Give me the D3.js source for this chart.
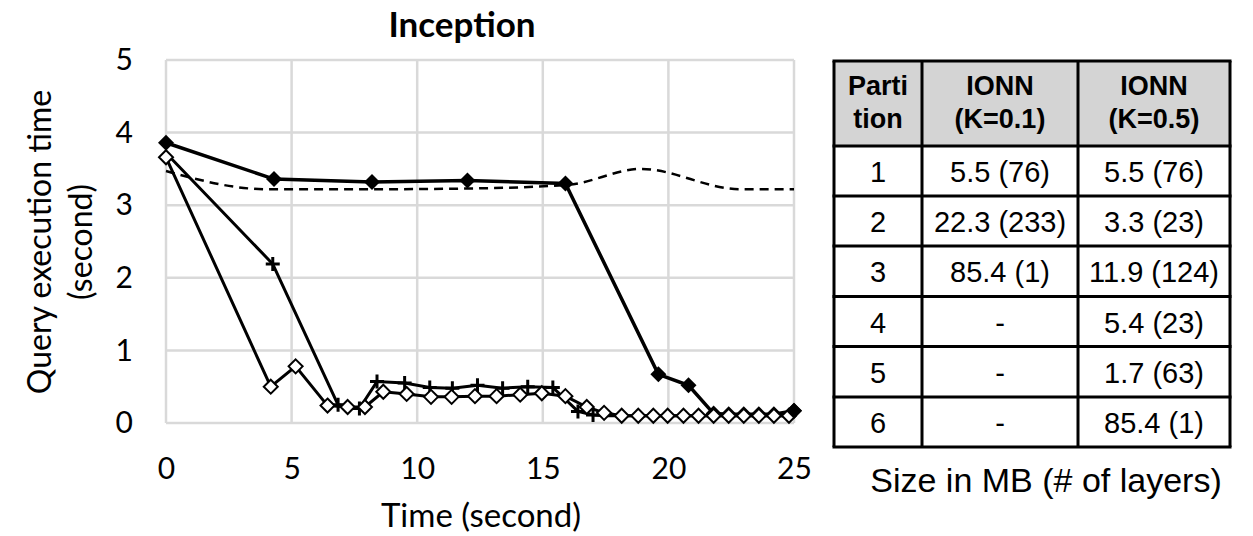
<!DOCTYPE html>
<html><head><meta charset="utf-8">
<script src="https://cdn.jsdelivr.net/npm/d3@7"></script>
<style>
html,body{margin:0;padding:0;background:#fff;}
svg{display:block;}
</style></head>
<body>
<svg id="c" width="1253" height="536"></svg>
<script>
// ---- data ----
const chartTitle = "Inception";
const xTicks = [0, 5, 10, 15, 20, 25];
const yTicks = [0, 1, 2, 3, 4, 5];
// filled diamonds series
const filledX = [0, 4.3, 8.2, 12.0, 15.9, 19.6, 20.8, 21.8, 22.4, 23.0, 23.6, 24.2, 25.0];
const filledY = [3.86, 3.36, 3.32, 3.34, 3.30, 0.67, 0.52, 0.13, 0.12, 0.12, 0.12, 0.12, 0.17];
// plus series
const plusX = [0, 4.25, 6.85, 7.7, 8.4, 9.5, 10.5, 11.4, 12.4, 13.4, 14.4, 15.4, 16.4, 17.0, 17.6, 18.2, 25.0];
const plusY = [3.72, 2.19, 0.25, 0.20, 0.57, 0.55, 0.49, 0.48, 0.52, 0.48, 0.50, 0.49, 0.16, 0.11, 0.1, 0.1, 0.1];
// hollow diamonds series
const hollowX = [0, 4.17, 5.16, 6.43, 7.23, 7.92, 8.65, 9.58, 10.55, 11.37, 12.3, 13.16, 14.1, 14.96, 15.9, 16.75, 17.44, 18.14, 18.8, 19.4, 19.97, 20.6, 21.2, 21.8, 22.4, 23.0, 23.6, 24.2, 24.8];
const hollowY = [3.66, 0.50, 0.78, 0.24, 0.22, 0.22, 0.43, 0.40, 0.36, 0.36, 0.37, 0.37, 0.39, 0.41, 0.37, 0.22, 0.14, 0.10, 0.10, 0.10, 0.10, 0.10, 0.10, 0.10, 0.10, 0.10, 0.10, 0.10, 0.10];
// dashed series (no markers)
const dashX = [0, 4.0, 8.0, 12.0, 16.0, 18.9, 22.85, 25.0];
const dashY = [3.47, 3.22, 3.22, 3.23, 3.28, 3.50, 3.22, 3.22];

const tableHeader = [["Parti", "tion"], ["IONN", "(K=0.1)"], ["IONN", "(K=0.5)"]];
const tablePartition = ["1", "2", "3", "4", "5", "6"];
const tableK01 = ["5.5 (76)", "22.3 (233)", "85.4 (1)", "-", "-", "-"];
const tableK05 = ["5.5 (76)", "3.3 (23)", "11.9 (124)", "5.4 (23)", "1.7 (63)", "85.4 (1)"];
const tableCaption = "Size in MB (# of layers)";

// ---- chart ----
const svg = d3.select("#c");
const chartFont = "Lato, 'Open Sans', sans-serif";
const x = d3.scaleLinear().domain([0, 25]).range([166, 794]);
const y = d3.scaleLinear().domain([0, 5]).range([423, 60]);

const g = svg.append("g");
// grid
g.selectAll(".vg").data(xTicks).join("line")
  .attr("x1", d => x(d)).attr("x2", d => x(d)).attr("y1", y(0)).attr("y2", y(5))
  .attr("stroke", "#d9d9d9").attr("stroke-width", 2.5);
g.selectAll(".hg").data(yTicks).join("line")
  .attr("x1", x(0)).attr("x2", x(25)).attr("y1", d => y(d)).attr("y2", d => y(d))
  .attr("stroke", "#d9d9d9").attr("stroke-width", 2.5);

// axes labels via d3 axes
const xAxis = g.append("g").attr("transform", `translate(0,${y(0)})`)
  .call(d3.axisBottom(x).tickValues(xTicks).tickFormat(d3.format("d")).tickSize(0).tickPadding(35));
const yAxis = g.append("g").attr("transform", `translate(${x(0)},0)`)
  .call(d3.axisLeft(y).tickValues(yTicks).tickFormat(d3.format("d")).tickSize(0).tickPadding(33));
[xAxis, yAxis].forEach(a => {
  a.select(".domain").remove();
  a.selectAll("text").attr("font-family", chartFont).attr("font-size", 30).attr("fill", "#000");
});

// title
svg.append("text").attr("x", 462).attr("y", 37).attr("text-anchor", "middle")
  .attr("font-family", chartFont).attr("font-weight", "bold").attr("font-size", 35).text(chartTitle);
// x axis title
svg.append("text").attr("x", 481).attr("y", 527).attr("text-anchor", "middle")
  .attr("font-family", chartFont).attr("font-size", 33).text("Time (second)");
// y axis title
const yt = svg.append("text").attr("transform", "translate(51,242) rotate(-90)")
  .attr("text-anchor", "middle").attr("font-family", chartFont).attr("font-size", 32);
yt.append("tspan").attr("x", 0).attr("dy", 0).text("Query execution time");
yt.append("tspan").attr("x", 0).attr("dy", 41).text("(second)");

const line = d3.line().x(d => x(d[0])).y(d => y(d[1]));
const zip = (a, b) => a.map((v, i) => [v, b[i]]);

// dashed
g.append("path").datum(zip(dashX, dashY))
  .attr("d", d3.line().x(d => x(d[0])).y(d => y(d[1])).curve(d3.curveMonotoneX))
  .attr("fill", "none").attr("stroke", "#000").attr("stroke-width", 2.5).attr("stroke-dasharray", "9,6");

const diamond = "M0,-8L8,0L0,8L-8,0Z";
// filled series
const fData = zip(filledX, filledY);
g.append("path").datum(fData).attr("d", line).attr("fill", "none").attr("stroke", "#000").attr("stroke-width", 3.5);
g.selectAll(".fd").data(fData).join("path")
  .attr("transform", d => `translate(${x(d[0])},${y(d[1])})`).attr("d", diamond).attr("fill", "#000");

// plus series
const pData = zip(plusX, plusY);
g.append("path").datum(pData).attr("d", line).attr("fill", "none").attr("stroke", "#000").attr("stroke-width", 3);
g.selectAll(".pm").data(pData.slice(1, 14)).join("path")
  .attr("transform", d => `translate(${x(d[0])},${y(d[1])})`).attr("d", "M-7,0H7M0,-7V7")
  .attr("stroke", "#000").attr("stroke-width", 3).attr("fill", "none");

// hollow series
const hData = zip(hollowX, hollowY);
g.append("path").datum(hData).attr("d", line).attr("fill", "none").attr("stroke", "#000").attr("stroke-width", 3);
g.selectAll(".hd").data(hData).join("path")
  .attr("transform", d => `translate(${x(d[0])},${y(d[1])})`).attr("d", "M0,-7L7,0L0,7L-7,0Z")
  .attr("fill", "#fff").attr("stroke", "#000").attr("stroke-width", 2);
// last filled marker on top
g.append("path").attr("transform", `translate(${x(filledX[filledX.length-1])},${y(filledY[filledY.length-1])})`)
  .attr("d", diamond).attr("fill", "#000");

// ---- table ----
const tFont = "'Liberation Sans', Arial, sans-serif";
const colX = [834, 922, 1078, 1230];
const rowY = [61, 146, 196, 246, 296.5, 346.5, 397, 447];
const t = svg.append("g");
t.append("rect").attr("x", colX[0]).attr("y", rowY[0]).attr("width", colX[3] - colX[0]).attr("height", rowY[1] - rowY[0]).attr("fill", "#d4d4d4");
// header text
tableHeader.forEach((h, i) => {
  const cx = (colX[i] + colX[i + 1]) / 2;
  const tx = t.append("text").attr("text-anchor", "middle").attr("font-family", tFont)
    .attr("font-size", 27).attr("font-weight", "bold");
  tx.append("tspan").attr("x", cx).attr("y", 95).text(h[0]);
  tx.append("tspan").attr("x", cx).attr("y", 128).text(h[1]);
});
const cols = [tablePartition, tableK01, tableK05];
cols.forEach((col, ci) => {
  const cx = (colX[ci] + colX[ci + 1]) / 2;
  col.forEach((v, ri) => {
    const cy = (rowY[ri + 1] + rowY[ri + 2]) / 2;
    t.append("text").attr("x", cx).attr("y", cy + 11).attr("text-anchor", "middle")
      .attr("font-family", tFont).attr("font-size", 29).text(v);
  });
});
// grid lines
rowY.forEach(r => t.append("line").attr("x1", colX[0] - 1.5).attr("x2", colX[3] + 1.5).attr("y1", r).attr("y2", r)
  .attr("stroke", "#000").attr("stroke-width", 3));
colX.forEach(c => t.append("line").attr("x1", c).attr("x2", c).attr("y1", rowY[0]).attr("y2", rowY[rowY.length - 1])
  .attr("stroke", "#000").attr("stroke-width", 3));
svg.append("text").attr("x", 1046).attr("y", 492).attr("text-anchor", "middle")
  .attr("font-family", tFont).attr("font-size", 34).text(tableCaption);
</script>
</body></html>
